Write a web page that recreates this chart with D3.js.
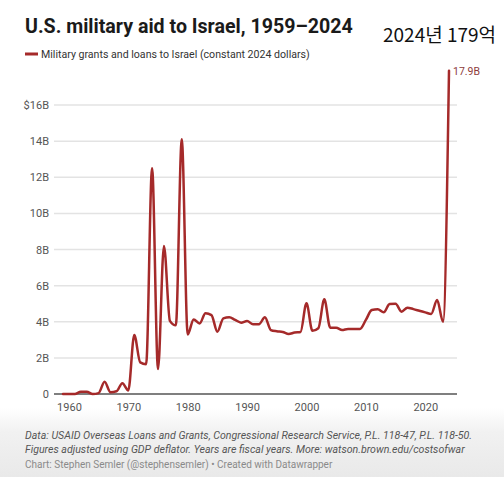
<!DOCTYPE html>
<html>
<head>
<meta charset="utf-8">
<script src="https://cdn.jsdelivr.net/npm/d3@7"></script>
<style>
  html, body { margin: 0; padding: 0; background: #fff; }
  svg { display: block; }
</style>
</head>
<body>
<script>
const years = d3.range(1959, 2025);
const values = [
  0.0, 0.0, 0.0, 0.12, 0.12, 0.0, 0.05, 0.68, 0.1, 0.15,
  0.6, 0.2, 3.27, 1.75, 1.65, 12.5, 1.38, 8.2, 4.05, 3.8,
  14.1, 3.3, 4.13, 3.9, 4.47, 4.37, 3.45, 4.19, 4.25, 4.1,
  3.95, 4.04, 3.86, 3.86, 4.25, 3.54, 3.47, 3.43, 3.32, 3.4,
  3.43, 5.02, 3.5, 3.64, 5.24, 3.67, 3.67, 3.54, 3.6, 3.6,
  3.6, 4.1, 4.65, 4.69, 4.52, 4.98, 5.0, 4.56, 4.78, 4.7,
  4.61, 4.52, 4.43, 5.2, 4.0, 17.9
];
const yTicks = [0, 2, 4, 6, 8, 10, 12, 14, 16];
const xTicks = [1960, 1970, 1980, 1990, 2000, 2010, 2020];
const title = "U.S. military aid to Israel, 1959–2024";
const annotation = "2024년 179억";
const legendLabel = "Military grants and loans to Israel (constant 2024 dollars)";
const endLabel = "17.9B";
const notes = [
  "Data: USAID Overseas Loans and Grants, Congressional Research Service, P.L. 118-47, P.L. 118-50.",
  "Figures adjusted using GDP deflator. Years are fiscal years. More: watson.brown.edu/costsofwar"
];
const credit = "Chart: Stephen Semler (@stephensemler) • Created with Datawrapper";

const W = 504, H = 477;
const lineColor = "#a52a2a";
const font = "Roboto, 'Noto Sans', sans-serif";

const svg = d3.select("body").append("svg").attr("width", W).attr("height", H);

// footer gradient
const defs = svg.append("defs");
const grad = defs.append("linearGradient").attr("id", "fg").attr("x1", 0).attr("y1", 0).attr("x2", 0).attr("y2", 1);
grad.append("stop").attr("offset", "0%").attr("stop-color", "#ffffff");
grad.append("stop").attr("offset", "35%").attr("stop-color", "#f1f1f1");
grad.append("stop").attr("offset", "100%").attr("stop-color", "#e9e9e9");
svg.append("rect").attr("x", 0).attr("y", 408).attr("width", W).attr("height", H - 408).attr("fill", "url(#fg)");

const x = d3.scaleLinear().domain([1959, 2024]).range([63, 449]);
const y = d3.scaleLinear().domain([0, 16]).range([394, 105]);

// title
svg.append("text").attr("x", 25).attr("y", 33)
  .attr("font-family", font).attr("font-weight", 700).attr("font-size", 19.6)
  .attr("fill", "#1a1a1a").text(title);

svg.append("text").attr("x", 383).attr("y", 42)
  .attr("font-family", "'Noto Sans CJK KR', sans-serif").attr("font-size", 19)
  .attr("fill", "#111").text(annotation);

// legend
svg.append("line").attr("x1", 25).attr("x2", 38).attr("y1", 54).attr("y2", 54)
  .attr("stroke", lineColor).attr("stroke-width", 3);
svg.append("text").attr("x", 41).attr("y", 58)
  .attr("font-family", font).attr("font-size", 10.6).attr("fill", "#333").text(legendLabel);

// gridlines
const grid = svg.append("g");
grid.selectAll("line").data(yTicks.filter(d => d > 0)).join("line")
  .attr("x1", 54).attr("x2", 457)
  .attr("y1", d => y(d)).attr("y2", d => y(d))
  .attr("stroke", "#e3e3e3").attr("stroke-width", 1.5);

// y axis labels
const yAxis = svg.append("g").attr("transform", "translate(49,0)")
  .call(d3.axisLeft(y).tickValues(yTicks).tickSize(0).tickPadding(0)
    .tickFormat(d => d === 0 ? "0" : (d === 16 ? "$16B" : d + "B")));
yAxis.select(".domain").remove();
yAxis.selectAll("text").attr("font-family", font).attr("font-size", 11).attr("fill", "#555");

// baseline
svg.append("line").attr("x1", 54).attr("x2", 457).attr("y1", y(0)).attr("y2", y(0))
  .attr("stroke", "#555").attr("stroke-width", 1.5);

// x axis labels
const xAxis = svg.append("g").attr("transform", `translate(0,${y(0) + 6})`)
  .call(d3.axisBottom(x).tickValues(xTicks).tickSize(0).tickPadding(3).tickFormat(d3.format("d")));
xAxis.select(".domain").remove();
xAxis.selectAll("text").attr("font-family", font).attr("font-size", 11).attr("fill", "#555");

// line
const data = years.map((yr, i) => ({ yr, v: values[i] }));
const line = d3.line().x(d => x(d.yr)).y(d => y(d.v)).curve(d3.curveMonotoneX);
svg.append("path").datum(data).attr("d", line)
  .attr("fill", "none").attr("stroke", lineColor).attr("stroke-width", 2.5)
  .attr("stroke-linejoin", "round").attr("stroke-linecap", "round");

// end label
const last = data[data.length - 1];
svg.append("text").attr("x", x(last.yr) + 4).attr("y", y(last.v) + 4)
  .attr("font-family", font).attr("font-size", 10.5).attr("fill", "#8e3b3b").text(endLabel);

// footer notes
svg.selectAll("text.note").data(notes).join("text").attr("class", "note")
  .attr("x", 25).attr("y", (d, i) => 439 + i * 14)
  .attr("font-family", font).attr("font-size", 10.6).attr("font-style", "italic")
  .attr("fill", "#555").text(d => d);
svg.append("text").attr("x", 25).attr("y", 468)
  .attr("font-family", font).attr("font-size", 10).attr("fill", "#8a8a8a").text(credit);
</script>
</body>
</html>
